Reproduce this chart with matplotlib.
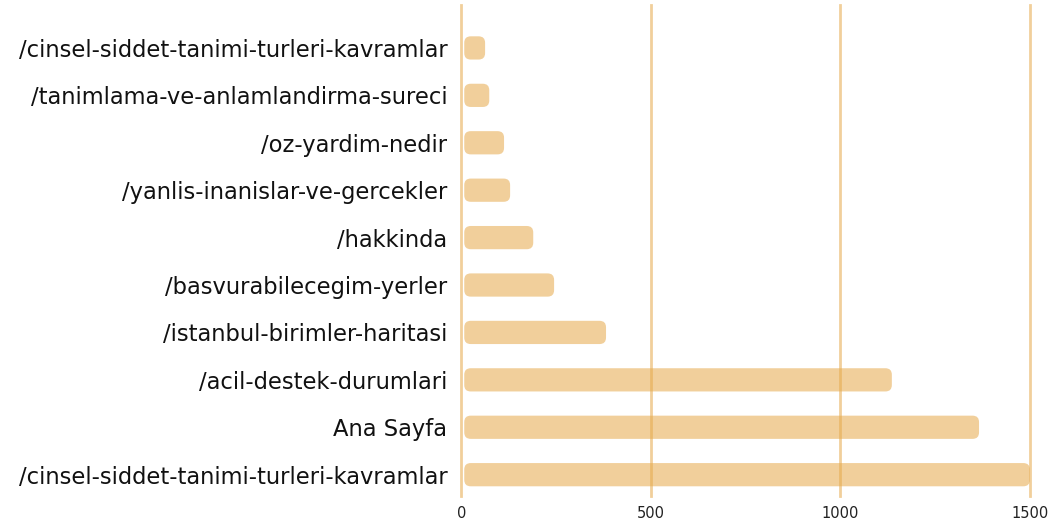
import matplotlib.pyplot as plt
from matplotlib.patches import FancyBboxPatch

pages = [
    "/cinsel-siddet-tanimi-turleri-kavramlar",
    "Ana Sayfa",
    "/acil-destek-durumlari",
    "/istanbul-birimler-haritasi",
    "/basvurabilecegim-yerler",
    "/hakkinda",
    "/yanlis-inanislar-ve-gercekler",
    "/oz-yardim-nedir",
    "/tanimlama-ve-anlamlandirma-sureci",
    "/cinsel-siddet-tanimi-turleri-kavramlar",
]
views = [1500, 1366, 1136, 382, 245, 190, 129, 113, 74, 63]
xticks = [0, 500, 1000, 1500]

bar_color = "#e6a94a"
grid_color = "#e6a94a"

fig = plt.figure(figsize=(10.53, 5.26), dpi=100)
ax = fig.add_axes([0.438, 0.057, 0.540, 0.933])

ax.set_xlim(0, 1500)
ax.set_ylim(-0.45, 9.9)

# vertical grid lines drawn over the bars
for t in xticks:
    ax.axvline(t, color=grid_color, lw=2, alpha=0.55, zorder=3, clip_on=False)

# rounded bars built from the barh geometry
bars = ax.barh(range(len(views)), views, height=0.49, alpha=0)
px_per_x = 0.54 * 1053 / 1500
px_per_y = 0.933 * 526 / 10.35
for b in bars:
    x0, y0, w, h = b.get_x(), b.get_y(), b.get_width(), b.get_height()
    x0 = x0 + 8
    w = w - 8
    patch = FancyBboxPatch((x0, y0), w, h,
                           boxstyle="round,pad=0,rounding_size=17",
                           mutation_aspect=px_per_x / px_per_y,
                           fc=bar_color, ec="none", alpha=0.55, zorder=2,
                           clip_on=False)
    ax.add_patch(patch)

ax.set_yticks(range(len(pages)))
ax.set_yticklabels(pages, fontsize=16.3, color="#111111", family="DejaVu Sans")
ax.set_xticks(xticks)
ax.set_xticklabels([str(t) for t in xticks], fontsize=10.5, color="#222222", family="DejaVu Sans")
ax.tick_params(length=0)
ax.tick_params(axis="y", pad=10)
ax.tick_params(axis="x", pad=7)
for s in ax.spines.values():
    s.set_visible(False)

fig.savefig("out.png", dpi=100)
